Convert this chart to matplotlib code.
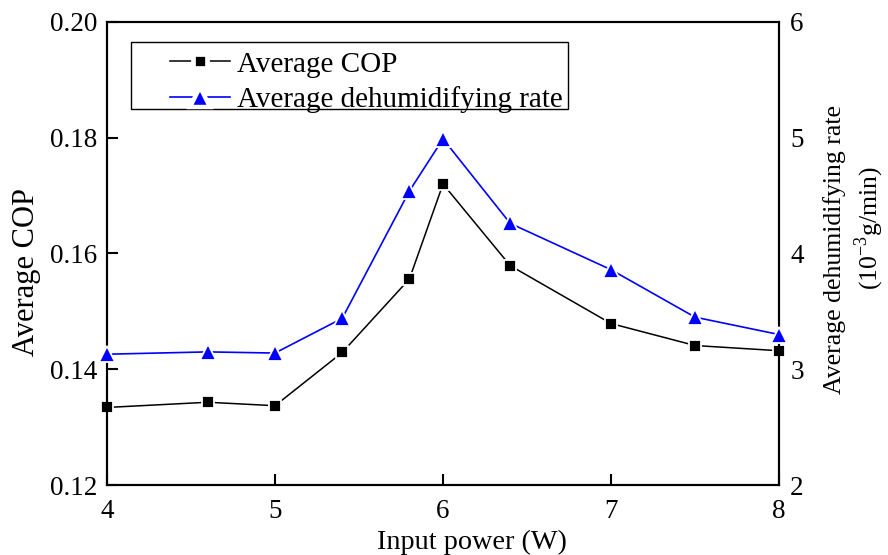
import numpy as np
import matplotlib.pyplot as plt
from matplotlib.lines import Line2D
from matplotlib.patches import Rectangle

plt.rcParams['font.family'] = ['Liberation Serif', 'DejaVu Serif']
plt.rcParams['mathtext.fontset'] = 'custom'
plt.rcParams['mathtext.rm'] = 'Liberation Serif'

# data
input_power = [4.0, 4.6, 5.0, 5.4, 5.8, 6.0, 6.4, 7.0, 7.5, 8.0]
avg_cop = [0.1334, 0.1343, 0.1337, 0.1429, 0.1556, 0.1720, 0.1579, 0.1479, 0.1441, 0.1432]
avg_rate = [3.13, 3.15, 3.14, 3.44, 4.54, 4.99, 4.26, 3.86, 3.45, 3.30]

fig = plt.figure(figsize=(8.88, 5.55), dpi=100)
ax = fig.add_axes([0.1205, 0.1261, 0.7568, 0.8343])
ax2 = ax.twinx()

ax.plot(input_power, avg_cop, color='black', lw=1.1, marker='s', ms=8.5,
        mfc='black', mec='white', mew=1.3, clip_on=False, zorder=3)
ax2.plot(input_power, avg_rate, color='blue', lw=1.2, marker='^', ms=12,
         mfc='blue', mec='white', mew=1.3, clip_on=False, zorder=3)

ax.set_xlim(4, 8)
ax.set_ylim(0.12, 0.20)
ax2.set_ylim(2, 6)
ax.set_xticks([4, 5, 6, 7, 8])
ax.set_yticks([0.12, 0.14, 0.16, 0.18, 0.20])
ax.set_yticklabels(['0.12', '0.14', '0.16', '0.18', '0.20'])
ax2.set_yticks([2, 3, 4, 5, 6])

for a in (ax, ax2):
    for s in a.spines.values():
        s.set_linewidth(1.5)
ax.tick_params(axis='both', direction='in', length=8, width=1.5, labelsize=19.5, pad=7)
ax.tick_params(axis='x', pad=10)
ax2.tick_params(axis='y', direction='in', length=0, labelsize=19.5, pad=8)

ax.set_xlabel('Input power (W)', fontsize=20.3)
ax.xaxis.set_label_coords(0.543, -0.123)
ax.xaxis.label.set_va('center')
ax.set_ylabel('Average COP', fontsize=22)
ax.yaxis.set_label_coords(-0.12, 0.46)
ax.yaxis.label.set_va('center')

ax2.text(1.083, 0.5076, 'Average dehumidifying rate', transform=ax2.transAxes,
         rotation=90, ha='center', va='center', fontsize=18.5)
ax2.text(1.134, 0.555, '(10$^{-3}$g/min)', transform=ax2.transAxes,
         rotation=90, ha='center', va='center', fontsize=18.5)

# legend, Origin style box with gaps round the markers
h1 = Line2D([], [], color='black', lw=1.1, marker='s', ms=9.5, mfc='black', mec='white', mew=3.4)
h2 = Line2D([], [], color='blue', lw=1.2, marker='^', ms=14, mfc='blue', mec='white', mew=3.2)
leg = ax.legend(handles=[h1, h2], labels=['Average COP', 'Average dehumidifying rate'],
                loc='upper left', bbox_to_anchor=(0.0938, 0.937), fontsize=21,
                frameon=False, handlelength=2.07, handletextpad=0.24, borderpad=0,
                labelspacing=0.3, borderaxespad=0)
leg.set_zorder(5)
ax.add_patch(Rectangle((0.0357, 0.812), 0.650, 0.1458, transform=ax.transAxes,
                       fill=False, edgecolor='black', lw=1.0, zorder=5))

fig.savefig('out.png', dpi=100)
